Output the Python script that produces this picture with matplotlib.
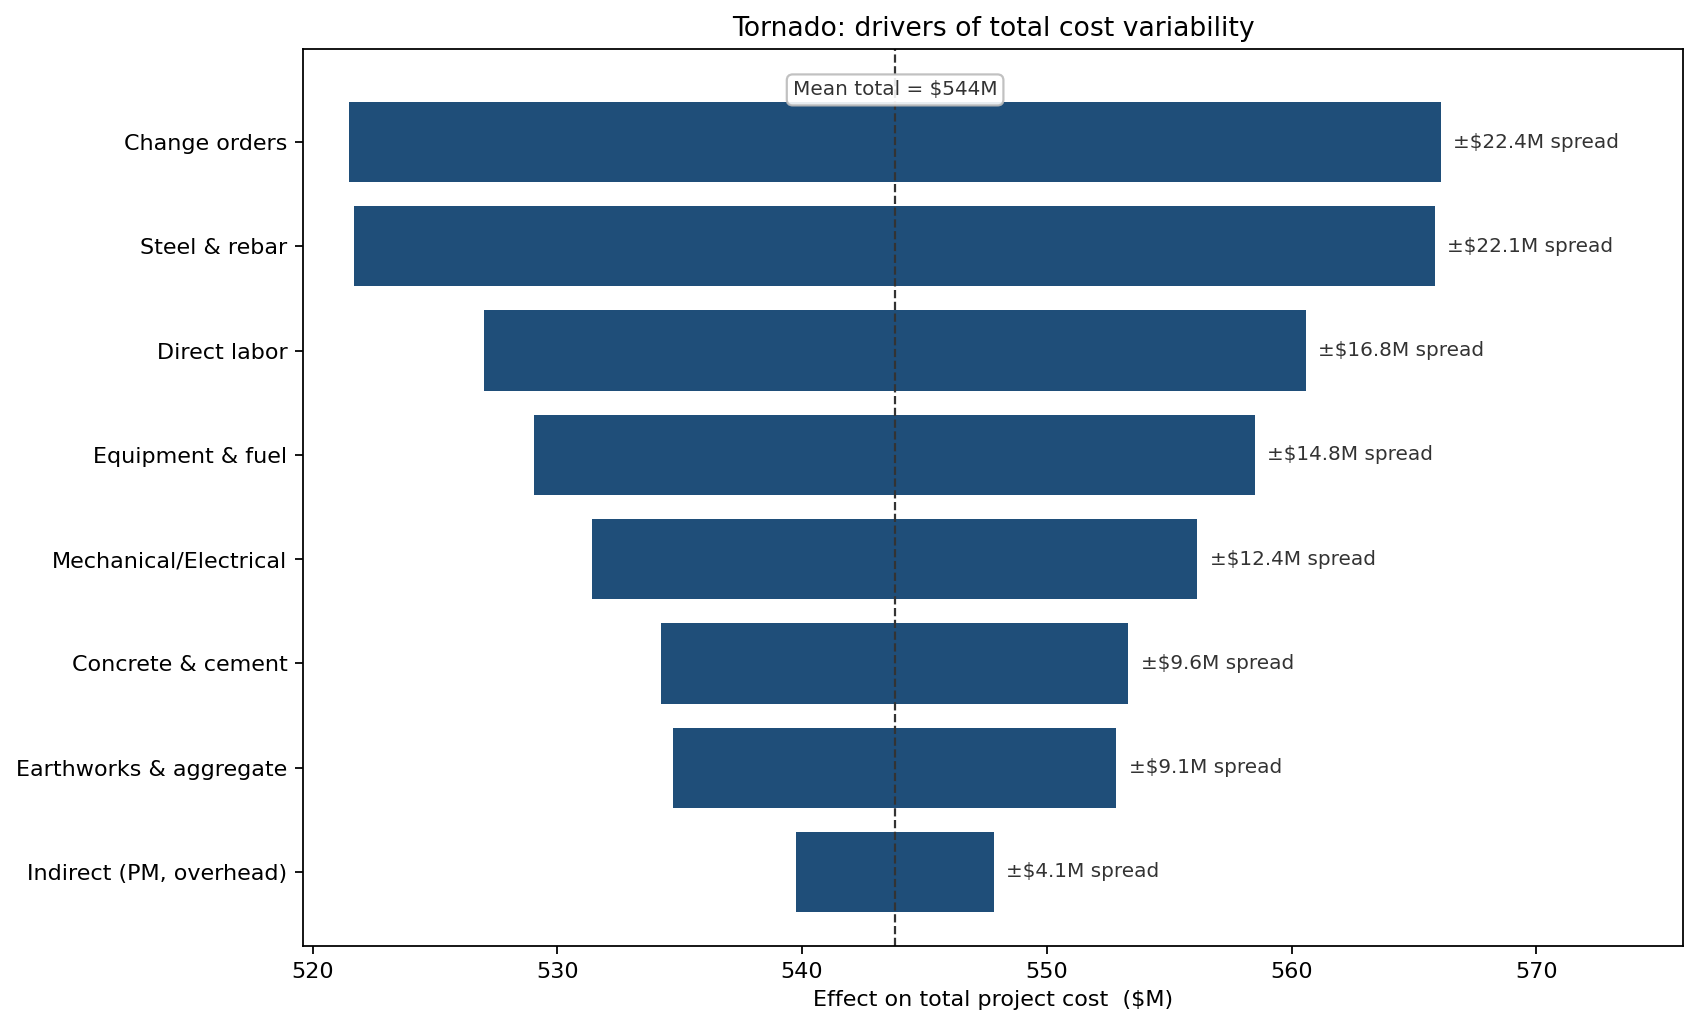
import matplotlib
matplotlib.use("Agg")
import matplotlib.pyplot as plt
import numpy as np

drivers = [
    "Change orders",
    "Steel & rebar",
    "Direct labor",
    "Equipment & fuel",
    "Mechanical/Electrical",
    "Concrete & cement",
    "Earthworks & aggregate",
    "Indirect (PM, overhead)",
]
low = [521.48, 521.67, 526.99, 529.03, 531.40, 534.22, 534.71, 539.74]
high = [566.11, 565.86, 560.60, 558.51, 556.15, 553.33, 552.84, 547.84]
spread = [22.4, 22.1, 16.8, 14.8, 12.4, 9.6, 9.1, 4.1]
mean_total = 543.8

fig, ax = plt.subplots(figsize=(10.6125, 6.4125), dpi=160)
fig.subplots_adjust(left=0.1784, right=0.9912, top=0.952, bottom=0.078)

y = np.arange(len(drivers))
widths = [h - l for l, h in zip(low, high)]
ax.barh(y, widths, left=low, height=0.77, color="#1f4e79")

ax.axvline(mean_total, color="#333333", linestyle="--", linewidth=1)
ax.text(mean_total, -0.5, f"Mean total = ${mean_total:.0f}M", ha="center", va="center",
        fontsize=9, color="#333333",
        bbox=dict(boxstyle="round,pad=0.3", facecolor="white", edgecolor="#bbbbbb", alpha=0.9))

for yi, h, s in zip(y, high, spread):
    ax.text(h + 0.5, yi, f"±${s:.1f}M spread", va="center", fontsize=9, color="#333333")

ax.set_yticks(y)
ax.set_yticklabels(drivers, fontsize=10)
ax.set_ylim(7.71, -0.89)
ax.set_xlim(519.6, 576)
ax.set_xticks([520, 530, 540, 550, 560, 570])
ax.tick_params(axis="x", labelsize=10)
ax.set_xlabel("Effect on total project cost  ($M)", fontsize=10)
ax.set_title("Tornado: drivers of total cost variability", fontsize=12)

fig.savefig("out.png", dpi=160)
